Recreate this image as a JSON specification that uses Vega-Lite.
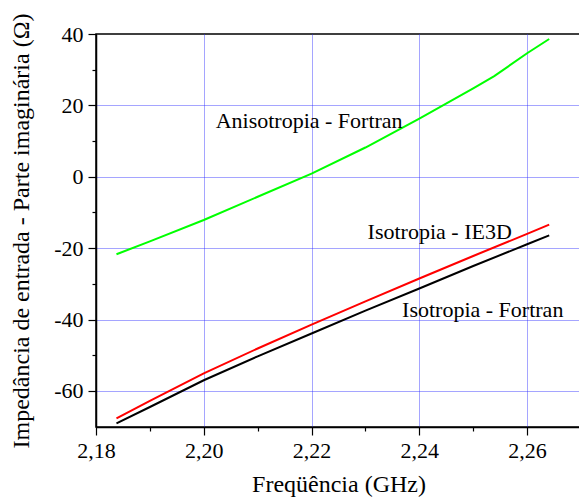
{
  "$schema": "https://vega.github.io/schema/vega-lite/v6.json",
  "autosize": "none",
  "padding": {"left": 96, "top": 34, "right": 0, "bottom": 72},
  "width": 485,
  "height": 393,
  "background": "white",
  "config": {
    "locale": {"number": {"decimal": ",", "thousands": ".", "grouping": [3], "currency": ["", ""], "minus": "-"}},
    "font": "Liberation Serif",
    "view": {"stroke": "#000000", "strokeWidth": 1.5},
    "axis": {
      "domainColor": "#000000", "domainWidth": 1.5,
      "tickColor": "#000000", "tickWidth": 1.2,
      "gridColor": "#2a2aff", "gridDash": [1, 1], "gridWidth": 1
    }
  },
  "datasets": {
    "curves": [
      {"f": 2.1838, "z": -69.1, "s": "Isotropia - Fortran"},
      {"f": 2.19, "z": -64.5, "s": "Isotropia - Fortran"},
      {"f": 2.20, "z": -57.0, "s": "Isotropia - Fortran"},
      {"f": 2.21, "z": -50.3, "s": "Isotropia - Fortran"},
      {"f": 2.22, "z": -43.9, "s": "Isotropia - Fortran"},
      {"f": 2.23, "z": -37.5, "s": "Isotropia - Fortran"},
      {"f": 2.24, "z": -31.3, "s": "Isotropia - Fortran"},
      {"f": 2.25, "z": -25.0, "s": "Isotropia - Fortran"},
      {"f": 2.26, "z": -18.9, "s": "Isotropia - Fortran"},
      {"f": 2.2641, "z": -16.4, "s": "Isotropia - Fortran"},
      {"f": 2.1838, "z": -67.7, "s": "Isotropia - IE3D"},
      {"f": 2.19, "z": -62.8, "s": "Isotropia - IE3D"},
      {"f": 2.20, "z": -55.1, "s": "Isotropia - IE3D"},
      {"f": 2.21, "z": -48.1, "s": "Isotropia - IE3D"},
      {"f": 2.22, "z": -41.4, "s": "Isotropia - IE3D"},
      {"f": 2.23, "z": -34.9, "s": "Isotropia - IE3D"},
      {"f": 2.24, "z": -28.5, "s": "Isotropia - IE3D"},
      {"f": 2.25, "z": -22.2, "s": "Isotropia - IE3D"},
      {"f": 2.26, "z": -16.0, "s": "Isotropia - IE3D"},
      {"f": 2.2641, "z": -13.4, "s": "Isotropia - IE3D"},
      {"f": 2.1838, "z": -21.7, "s": "Anisotropia - Fortran"},
      {"f": 2.19, "z": -18.1, "s": "Anisotropia - Fortran"},
      {"f": 2.20, "z": -12.1, "s": "Anisotropia - Fortran"},
      {"f": 2.21, "z": -5.6, "s": "Anisotropia - Fortran"},
      {"f": 2.22, "z": 0.9, "s": "Anisotropia - Fortran"},
      {"f": 2.23, "z": 8.2, "s": "Anisotropia - Fortran"},
      {"f": 2.24, "z": 16.3, "s": "Anisotropia - Fortran"},
      {"f": 2.25, "z": 24.8, "s": "Anisotropia - Fortran"},
      {"f": 2.2539, "z": 28.2, "s": "Anisotropia - Fortran"},
      {"f": 2.26, "z": 34.6, "s": "Anisotropia - Fortran"},
      {"f": 2.2641, "z": 38.6, "s": "Anisotropia - Fortran"}
    ],
    "labels": [
      {"f": 2.2022, "z": 13.65, "t": "Anisotropia - Fortran"},
      {"f": 2.2304, "z": -17.55, "t": "Isotropia - IE3D"},
      {"f": 2.2368, "z": -39.25, "t": "Isotropia - Fortran"}
    ]
  },
  "layer": [
    {
      "data": {"name": "curves"},
      "mark": {"type": "line", "strokeWidth": 2, "clip": true},
      "encoding": {
        "x": {
          "field": "f", "type": "quantitative",
          "scale": {"domain": [2.18, 2.27], "nice": false, "zero": false},
          "axis": {
            "values": [2.18, 2.19, 2.20, 2.21, 2.22, 2.23, 2.24, 2.25, 2.26, 2.27],
            "tickCount": 30,
            "format": ".2f",
            "labelExpr": "round(datum.value*100) % 2 == 0 ? datum.label : ''",
            "tickSize": {"condition": {"test": "round(datum.value*100) % 2 == 0", "value": 8}, "value": 4},
            "grid": true,
            "gridOpacity": {"condition": {"test": "round(datum.value*100) % 2 == 0 && round(datum.value*100) > 218", "value": 0.85}, "value": 0},
            "labelFont": "Liberation Serif", "labelFontSize": 22, "labelColor": "#000000",
            "labelPadding": 5,
            "labelFlush": false,
            "labelOverlap": false,
            "title": "Freqüência (GHz)",
            "titleFont": "Liberation Serif", "titleFontSize": 24, "titleFontWeight": "normal", "titleColor": "#000000",
            "titlePadding": 11
          }
        },
        "y": {
          "field": "z", "type": "quantitative",
          "scale": {"domain": [-70.1, 40], "nice": false, "zero": false},
          "axis": {
            "values": [-60, -50, -40, -30, -20, -10, 0, 10, 20, 30, 40],
            "tickCount": 30,
            "format": "d",
            "labelExpr": "indexof([-60,-40,-20,0,20,40], datum.value) >= 0 ? datum.label : ''",
            "tickSize": {"condition": {"test": "indexof([-60,-40,-20,0,20,40], datum.value) >= 0", "value": 8}, "value": 4},
            "grid": true,
            "gridOpacity": {"condition": {"test": "indexof([-60,-40,-20,0,20], datum.value) >= 0", "value": 0.85}, "value": 0},
            "labelFont": "Liberation Serif", "labelFontSize": 22, "labelColor": "#000000",
            "labelPadding": 5,
            "labelFlush": false,
            "labelOverlap": false,
            "title": "Impedância de entrada - Parte imaginária (Ω)",
            "titleFont": "Liberation Serif", "titleFontSize": 24, "titleFontWeight": "normal", "titleColor": "#000000",
            "titlePadding": 20
          }
        },
        "color": {
          "field": "s", "type": "nominal",
          "scale": {"domain": ["Isotropia - Fortran", "Isotropia - IE3D", "Anisotropia - Fortran"], "range": ["#000000", "#ff0000", "#00ff00"]},
          "legend": null
        },
        "detail": {"field": "s"}
      }
    },
    {
      "data": {"name": "labels"},
      "mark": {"type": "text", "align": "left", "baseline": "alphabetic", "font": "Liberation Serif", "fontSize": 22, "color": "#000000"},
      "encoding": {
        "x": {"field": "f", "type": "quantitative"},
        "y": {"field": "z", "type": "quantitative"},
        "text": {"field": "t"}
      }
    }
  ]
}
